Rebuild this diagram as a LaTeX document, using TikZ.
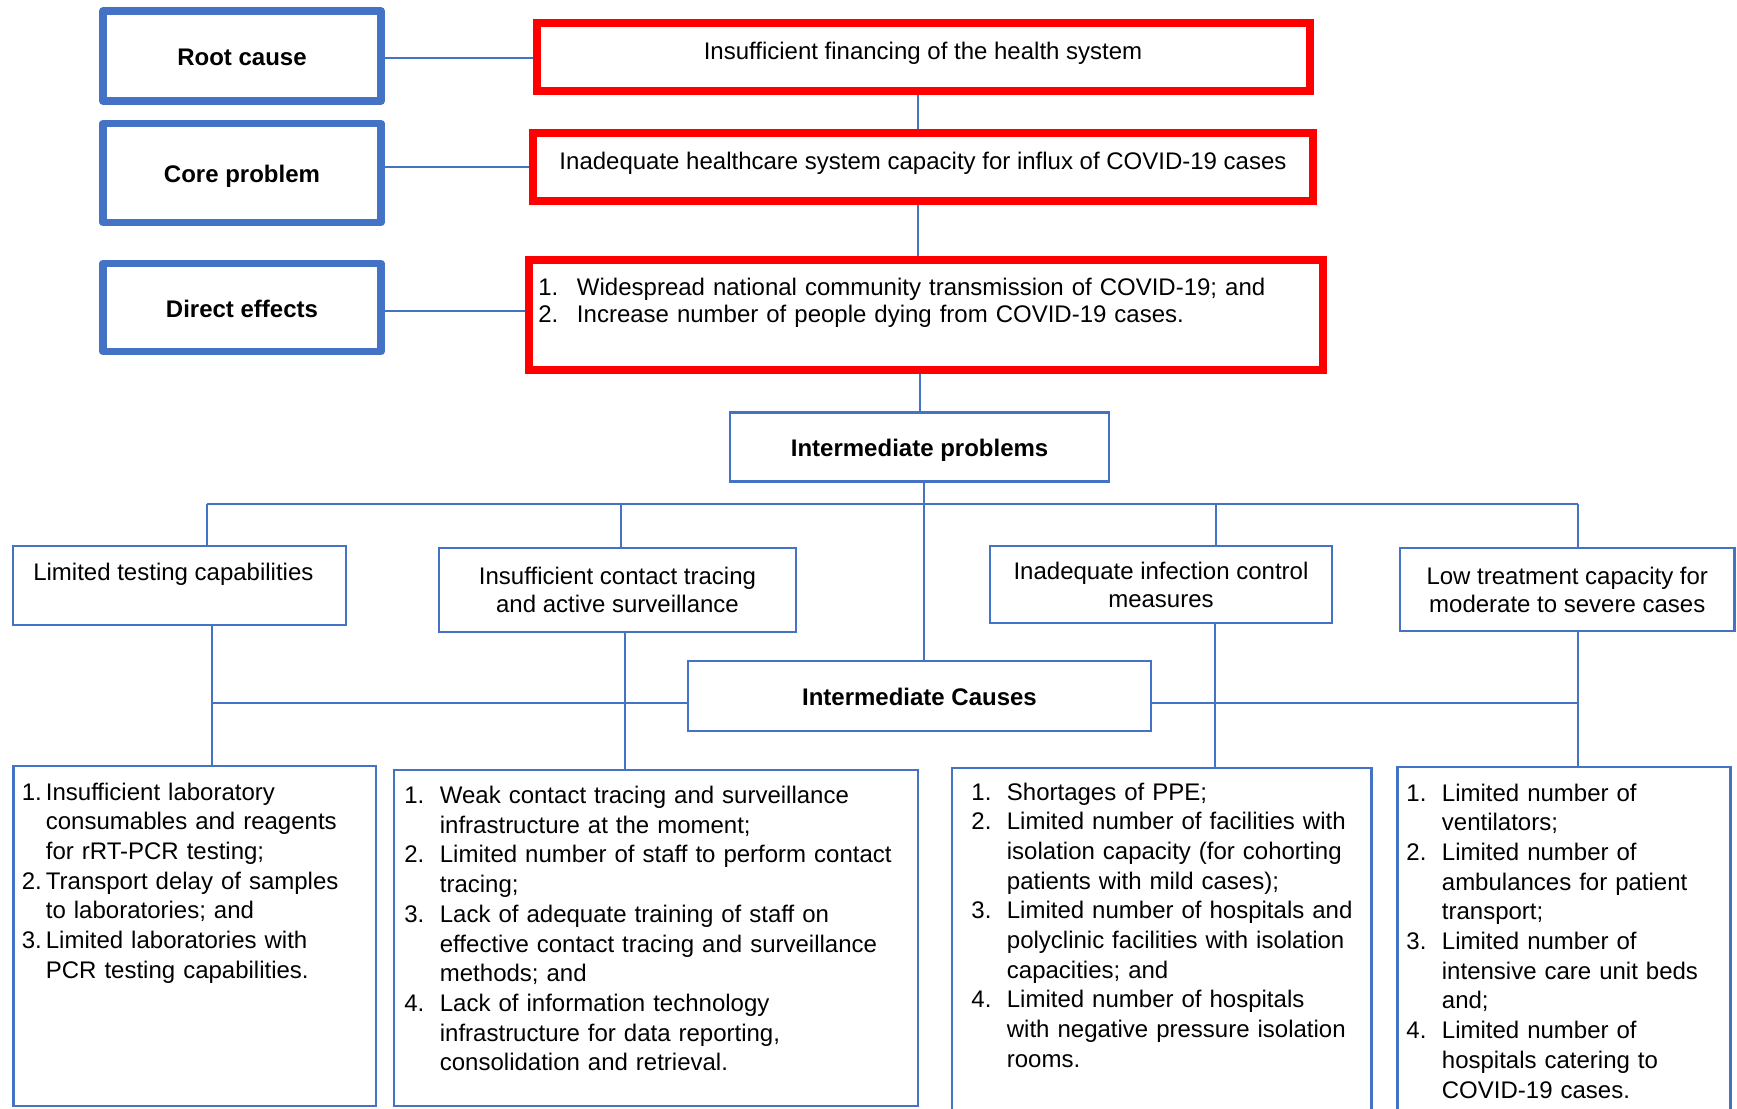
\documentclass[tikz,border=0pt]{standalone}
\usepackage{fontspec}
\setmainfont{Liberation Sans}
\definecolor{wordblue}{RGB}{68,114,196}
\definecolor{wordred}{RGB}{255,0,0}
\hyphenpenalty=10000
\newlength{\numw}
\setlength{\numw}{17.75pt}
\newcommand{\nr}[1]{\makebox[\numw][l]{#1}}
\newcommand{\cont}{\hspace*{\numw}}

\begin{document}
\begin{tikzpicture}[x=0.5pt, y=-0.5pt, font=\fontsize{12}{14}\selectfont]
  \tikzstyle{tag}=[draw=wordblue, line width=3.75pt, line join=round, minimum width=139pt, inner sep=0pt, text height=9.8pt, text depth=0pt, font={\fontsize{12}{14}\selectfont\bfseries}]
  \tikzstyle{redbox}=[draw=wordred, line width=4pt, inner sep=0pt]
  \tikzstyle{probbox}=[draw=wordblue, line width=1.25pt, inner sep=0pt, align=center]
  \tikzstyle{head}=[probbox, text height=9.8pt, text depth=0pt, font={\fontsize{12}{14}\selectfont\bfseries}]
  \tikzstyle{itemlist}=[anchor=base west, inner sep=0pt, text width=320pt, align=left, font=\fontsize{12}{14.85}\selectfont]
  \tikzstyle{wire}=[draw=wordblue, line width=1pt]

  \useasboundingbox (0,0) rectangle (1737,1109);

  % left column of tags
  \node[tag, minimum height=45pt] (RC) at (242, 56) {Root cause};
  \node[tag, minimum height=49.5pt] (CP) at (242, 173) {Core problem};
  \node[tag, minimum height=44pt] (DE) at (242, 307.5) {Direct effects};

  % red boxes
  \node[redbox, minimum width=386.25pt, minimum height=34.1pt] (R1) at (923.25, 57.1) {};
  \node[redbox, minimum width=390pt, minimum height=34.1pt] (R2) at (923.2, 167.1) {};
  \node[redbox, minimum width=396.75pt, minimum height=55.15pt] (R3) at (925.75, 314.85) {};
  \node[anchor=base] (R1t) at (923, 59) {Insufficient financing of the health system};
  \node[anchor=base] (R2t) at (923, 169) {Inadequate healthcare system capacity for influx of COVID-19 cases};
  \node[itemlist, text width=380pt, font=\fontsize{12}{13.85}\selectfont] (R3t) at (538, 295)
    {\setlength{\numw}{19.3pt}\nr{1.}Widespread national community transmission of COVID-19; and\\
     \nr{2.}Increase number of people dying from COVID-19 cases.};

  \draw[wire] ([yshift=-1pt]RC.east) -- ([yshift=-1pt]RC.east -| R1.west);
  \draw[wire] (CP.east |- R2.west) -- (R2.west);
  \draw[wire] ([yshift=-1.75pt]DE.east) -- ([yshift=-1.75pt]DE.east -| R3.west);

  % intermediate problems and causes
  \node[head, minimum width=189.5pt, minimum height=34.7pt] (IP) at (919.6, 447) {Intermediate problems};
  \node[head, minimum width=231.5pt, minimum height=35pt] (IC) at (919.5, 696) {Intermediate Causes};

  \draw[wire] ([xshift=-1pt]R1.south -| IP.north) -- ([xshift=-1pt]R2.north -| IP.north);
  \draw[wire] ([xshift=-0.8pt]R2.south -| IP.north) -- ([xshift=-0.8pt]R3.north -| IP.north);
  \draw[wire] (R3.south -| IP.north) -- (IP.north);
  \draw[wire] ([xshift=2.2pt]IP.south) -- ([xshift=2.2pt]IP.south |- IC.north);

  % the four problems
  \node[probbox, minimum width=166.5pt, minimum height=39.5pt] (LT) at (179.5, 585.5) {};
  \node[anchor=base] (LTt) at (173.4, 580.5) {Limited testing capabilities};
  \node[probbox, minimum width=178.5pt, minimum height=42pt] (CT) at (617.5, 590) {Insufficient contact tracing\\and active surveillance};
  \node[probbox, minimum width=171pt, minimum height=38.5pt] (IF) at (1161, 584.5) {Inadequate infection control\\measures};
  \node[probbox, minimum width=167.25pt, minimum height=41.5pt] (LW) at (1567.25, 589.5) {Low treatment capacity for\\moderate to severe cases};

  \coordinate (S1) at (207, 504);
  \coordinate (S2) at (621, 504);
  \coordinate (S3) at (1216, 504);
  \coordinate (S4) at (1578, 504);
  \draw[wire] (S1) -- (S4); % top bar
  \draw[wire] (S1) -- (S1 |- LT.north);
  \draw[wire] (S2) -- (S2 |- CT.north);
  \draw[wire] (S3) -- (S3 |- IF.north);
  \draw[wire] (S4) -- (S4 |- LW.north);

  % the four lists of causes
  \node[probbox, minimum width=181.3pt, minimum height=170pt] (B1) at (194.6, 936) {};
  \node[probbox, minimum width=262pt, minimum height=168pt] (B2) at (656, 938) {};
  \node[probbox, minimum width=209.85pt, minimum height=173.5pt] (B3) at (1161.85, 941.5) {};
  \node[probbox, minimum width=166.7pt, minimum height=174pt] (B4) at (1564, 941) {};

  \node[itemlist] (B1t) at (21.5, 800)
    {\setlength{\numw}{12pt}\nr{1.}Insufficient laboratory\\
     \cont consumables and reagents\\
     \cont for rRT-PCR testing;\\
     \nr{2.}Transport delay of samples\\
     \cont to laboratories; and\\
     \nr{3.}Limited laboratories with\\
     \cont PCR testing capabilities.};
  \node[itemlist] (B2t) at (404, 803.5)
    {\nr{1.}Weak contact tracing and surveillance\\
     \cont infrastructure at the moment;\\
     \nr{2.}Limited number of staff to perform contact\\
     \cont tracing;\\
     \nr{3.}Lack of adequate training of staff on\\
     \cont effective contact tracing and surveillance\\
     \cont methods; and\\
     \nr{4.}Lack of information technology\\
     \cont infrastructure for data reporting,\\
     \cont consolidation and retrieval.};
  \node[itemlist] (B3t) at (971, 800)
    {\nr{1.}Shortages of PPE;\\
     \nr{2.}Limited number of facilities with\\
     \cont isolation capacity (for cohorting\\
     \cont patients with mild cases);\\
     \nr{3.}Limited number of hospitals and\\
     \cont polyclinic facilities with isolation\\
     \cont capacities; and\\
     \nr{4.}Limited number of hospitals\\
     \cont with negative pressure isolation\\
     \cont rooms.};
  \node[itemlist] (B4t) at (1406, 801)
    {\nr{1.}Limited number of\\
     \cont ventilators;\\
     \nr{2.}Limited number of\\
     \cont ambulances for patient\\
     \cont transport;\\
     \nr{3.}Limited number of\\
     \cont intensive care unit beds\\
     \cont and;\\
     \nr{4.}Limited number of\\
     \cont hospitals catering to\\
     \cont COVID-19 cases.};

  \coordinate (T1) at (212, 703);
  \coordinate (T2) at (624.5, 703);
  \coordinate (T3) at (1215, 703);
  \coordinate (T4) at (1578, 703);
  \draw[wire] (T1 |- LT.south) -- (T1 |- B1.north);
  \draw[wire] (T2 |- CT.south) -- (T2 |- B2.north);
  \draw[wire] (T3 |- IF.south) -- (T3 |- B3.north);
  \draw[wire] (T4 |- LW.south) -- (T4 |- B4.north);
  \draw[wire] (T1) -- (IC.west |- T1); % left causes bar
  \draw[wire] (IC.east |- T4) -- (T4); % right causes bar
\end{tikzpicture}
\end{document}
